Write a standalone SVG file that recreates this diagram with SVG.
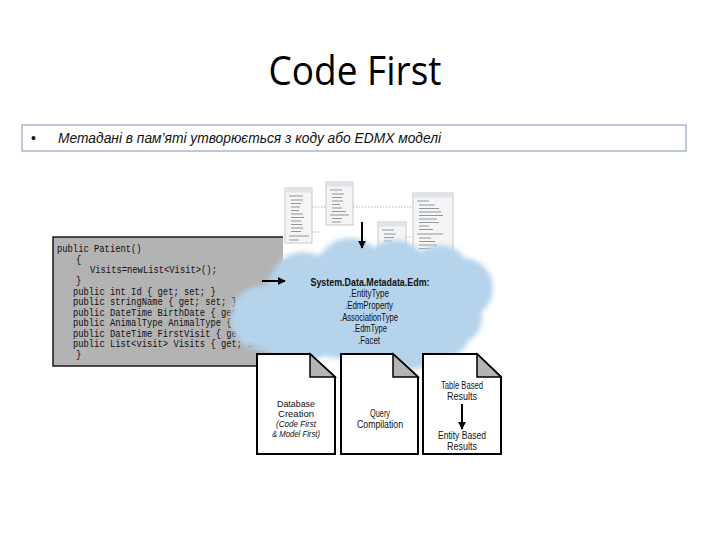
<svg xmlns="http://www.w3.org/2000/svg" width="720" height="540" viewBox="0 0 720 540">
<style>
.title{font-family:"Open Sans","Noto Sans","Liberation Sans",sans-serif;font-size:40px;fill:#000}
.bul{font-family:"Liberation Sans","Noto Sans",sans-serif;font-size:14px;font-style:italic;fill:#111}
.code{font-family:"Liberation Mono","DejaVu Sans Mono",monospace;font-size:10.5px;fill:#111}
.ct{font-family:"Liberation Sans","Noto Sans",sans-serif;font-size:11px;fill:#111;text-anchor:middle}
.ctb{font-weight:bold}
.dt{font-family:"Liberation Sans","Noto Sans",sans-serif;font-size:10px;fill:#111;text-anchor:middle}
.dts{font-size:9px}
.doc{fill:#fff;stroke:#000;stroke-width:2;stroke-linejoin:miter}
.fold{fill:#b4b4b4;stroke:#000;stroke-width:1.5}
.ebox{fill:#f5f5f5;stroke:#b9bcc0;stroke-width:0.8}
.ebar{fill:#dfe4ea}
.erow{stroke:#8e959c;stroke-width:1}
.dash{stroke:#9aa0a6;stroke-width:0.8;stroke-dasharray:1.5 1.5;fill:none}
.arr{stroke:#000;stroke-width:2;fill:none}
</style>
<defs>
<marker id="ah" viewBox="0 0 10 10" refX="9" refY="5" markerWidth="4" markerHeight="4" orient="auto" markerUnits="strokeWidth">
<path d="M0,0 L10,5 L0,10 z" fill="#000"/>
</marker>
<filter id="soft" x="-10%" y="-10%" width="120%" height="120%">
<feGaussianBlur stdDeviation="2.5"/>
</filter>
</defs>
<rect width="720" height="540" fill="#fff"/>

<g id="title">
<text class="title" x="355" y="85" text-anchor="middle" textLength="173" lengthAdjust="spacingAndGlyphs">Code First</text>
</g>

<g id="bullet-box">
<rect x="22" y="125" width="664" height="26" fill="#fff" stroke="#a8b8ca" stroke-width="1.5"/>
<text class="bul" x="31" y="143" style="font-style:normal">•</text>
<text class="bul" x="58" y="143" textLength="383" lengthAdjust="spacingAndGlyphs">Метадані в пам’яті утворюється з коду або EDMX моделі</text>
</g>

<g id="code">
<rect x="53" y="237" width="250" height="129" fill="#b3b3b3" stroke="#1a1a1a" stroke-width="1.5"/>
<g transform="translate(57,0) scale(0.84,1)">
<text class="code" x="0" y="252">public Patient()</text>
<text class="code" x="22.6" y="263">{</text>
<text class="code" x="39.3" y="273.5">Visits=newList&lt;Visit&gt;();</text>
<text class="code" x="22.6" y="284">}</text>
<text class="code" x="19" y="295">public int Id { get; set; }</text>
<text class="code" x="19" y="305.5">public stringName { get; set; }</text>
<text class="code" x="19" y="316">public DateTime BirthDate { get; set; }</text>
<text class="code" x="19" y="326.5">public AnimalType AnimalType { get; set; }</text>
<text class="code" x="19" y="337">public DateTime FirstVisit { get; set; }</text>
<text class="code" x="19" y="347.5">public List&lt;visit&gt; Visits { get; set; }</text>
<text class="code" x="22.6" y="358">}</text>
</g>
</g>

<g id="edmx">
<rect x="283" y="175" width="175" height="87" fill="#fff"/>
<path class="dash" d="M312,207 H326 M353,207 H413 M406,237 H413 M312,232 H320"/>
<g id="entity1">
<rect class="ebox" x="285" y="188" width="27" height="55"/>
<rect class="ebar" x="285.5" y="188.5" width="26" height="4"/>
<path class="erow" d="M289,196h14 M291,200h12 M291,203.5h10 M291,207h9 M291,210.5h8 M291,214h12 M291,217.5h13 M291,221h10 M291,224.5h11 M291,228h12 M291,231.5h10 M289,236h20 M289,240h10"/>
</g>
<g id="entity2">
<rect class="ebox" x="326" y="182" width="27" height="43"/>
<rect class="ebar" x="326.5" y="182.5" width="26" height="4"/>
<path class="erow" d="M330,190h12 M332,194h12 M332,197.5h10 M332,201h11 M332,204.5h8 M332,208h10 M332,211.5h14 M330,215h19 M332,218.5h10 M332,222h9"/>
</g>
<g id="entity3">
<rect class="ebox" x="378" y="222" width="28" height="36"/>
<rect class="ebar" x="378.5" y="222.5" width="27" height="4"/>
<path class="erow" d="M382,230h12 M384,234h12 M384,237.5h10 M384,241h8 M390,245h10"/>
</g>
<g id="entity4">
<rect class="ebox" x="413" y="193" width="40" height="66"/>
<rect class="ebar" x="413.5" y="193.5" width="39" height="4"/>
<path class="erow" d="M417,201h12 M419,205h16 M419,208.5h20 M419,212h22 M419,215.5h24 M419,219h18 M419,222.5h20 M419,226h10 M419,229.5h14 M417,234h26 M419,238h12 M419,241.5h16 M419,245h18 M419,248.5h12"/>
</g>
</g>

<g id="cloud">
<g filter="url(#soft)" fill="#b5d3eb">
<ellipse cx="362" cy="305" rx="105" ry="55"/>
<circle cx="303" cy="285" r="33"/>
<circle cx="350" cy="272" r="34"/>
<circle cx="395" cy="272" r="32"/>
<circle cx="440" cy="275" r="30"/>
<circle cx="463" cy="288" r="30"/>
<circle cx="455" cy="318" r="27"/>
<circle cx="262" cy="318" r="32"/>
<ellipse cx="300" cy="338" rx="45" ry="22"/>
<ellipse cx="395" cy="345" rx="55" ry="26"/>
<ellipse cx="440" cy="338" rx="28" ry="20"/>
</g>
<text class="ct ctb" x="370" y="286" textLength="119" lengthAdjust="spacingAndGlyphs">System.Data.Metadata.Edm:</text>
<text class="ct" x="369" y="297" textLength="40" lengthAdjust="spacingAndGlyphs">.EntityType</text>
<text class="ct" x="369" y="309" textLength="48" lengthAdjust="spacingAndGlyphs">.EdmProperty</text>
<text class="ct" x="369" y="320.5" textLength="58" lengthAdjust="spacingAndGlyphs">.AssociationType</text>
<text class="ct" x="370" y="332" textLength="34" lengthAdjust="spacingAndGlyphs">.EdmType</text>
<text class="ct" x="369" y="344" textLength="22" lengthAdjust="spacingAndGlyphs">.Facet</text>
</g>

<g id="doc-database">
<path class="doc" d="M257,354 H310 L335,377 V454 H257 Z"/>
<path class="fold" d="M310,354 V377 H335 Z"/>
<text class="dt dts" x="296" y="407" textLength="38" lengthAdjust="spacingAndGlyphs">Database</text>
<text class="dt dts" x="296" y="417" textLength="36" lengthAdjust="spacingAndGlyphs">Creation</text>
<text class="dt dts" x="296" y="427" font-style="italic" textLength="40" lengthAdjust="spacingAndGlyphs">(Code First</text>
<text class="dt dts" x="296" y="437" font-style="italic" textLength="48" lengthAdjust="spacingAndGlyphs">&amp; Model First)</text>
</g>

<g id="doc-query">
<path class="doc" d="M341,354 H393 L418,377 V454 H341 Z"/>
<path class="fold" d="M393,354 V377 H418 Z"/>
<text class="dt" x="380" y="417" textLength="20" lengthAdjust="spacingAndGlyphs">Query</text>
<text class="dt" x="380" y="428" textLength="46" lengthAdjust="spacingAndGlyphs">Compilation</text>
</g>

<g id="doc-results">
<path class="doc" d="M423,354 H477 L501,377 V454 H423 Z"/>
<path class="fold" d="M477,354 V377 H501 Z"/>
<text class="dt" x="462" y="389" textLength="42" lengthAdjust="spacingAndGlyphs">Table Based</text>
<text class="dt" x="462" y="400" textLength="30" lengthAdjust="spacingAndGlyphs">Results</text>
<text class="dt" x="462" y="439" textLength="48" lengthAdjust="spacingAndGlyphs">Entity Based</text>
<text class="dt" x="462" y="450" textLength="30" lengthAdjust="spacingAndGlyphs">Results</text>
</g>

<g id="connectors">
<line class="arr" x1="262" y1="281" x2="285" y2="281" marker-end="url(#ah)"/>
<line class="arr" x1="362" y1="222" x2="362" y2="248" marker-end="url(#ah)"/>
<line class="arr" x1="462" y1="404" x2="462" y2="429" marker-end="url(#ah)"/>
</g>
</svg>
